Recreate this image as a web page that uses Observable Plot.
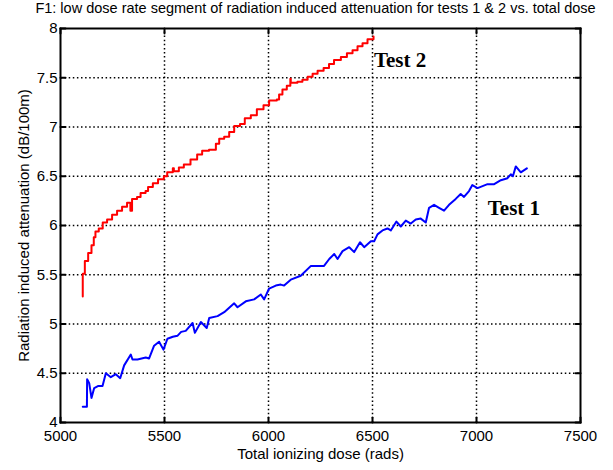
<!DOCTYPE html>
<html>
<head>
<meta charset="utf-8">
<script src="https://cdn.jsdelivr.net/npm/d3@7"></script>
<script src="https://cdn.jsdelivr.net/npm/@observablehq/plot@0.6"></script>
<style>
  html, body { margin: 0; padding: 0; background: #fff; }
  #title { width: 613px; height: 20px; line-height: 22px; text-align: center; font: 14.5px "Liberation Sans", Arial, sans-serif; color: #000; white-space: nowrap; padding-left: 18px; box-sizing: border-box; }
  #chart svg { display: block; }
</style>
</head>
<body>
<div id="title">F1: low dose rate segment of radiation induced attenuation for tests 1 &amp; 2 vs. total dose</div>
<div id="chart"></div>
<script>
// Test 2 (red)
const test2Dose = [5107,5107,5117,5133,5149,5160,5168,5184,5203,5224,5248,5272,5296,5320,5336,5344,5368,5385,5409,5421,5444,5469,5497,5513,5540,5545,5561,5569,5593,5625,5657,5681,5714,5747,5763,5787,5811,5835,5863,5886,5915,5944,5976,6003,6040,6051,6067,6088,6105,6107,6139,6163,6188,6212,6236,6265,6291,6315,6348,6377,6404,6428,6452,6476,6505];
const test2Atten = [5.28,5.51,5.64,5.72,5.80,5.88,5.94,5.97,6.03,6.06,6.11,6.15,6.19,6.23,6.15,6.27,6.29,6.33,6.35,6.39,6.43,6.47,6.50,6.54,6.58,6.55,6.55,6.59,6.62,6.67,6.72,6.76,6.77,6.83,6.88,6.90,6.95,7.01,7.03,7.09,7.12,7.18,7.22,7.27,7.28,7.33,7.38,7.42,7.49,7.45,7.46,7.48,7.51,7.54,7.57,7.60,7.64,7.68,7.71,7.75,7.78,7.82,7.85,7.89,7.92];
// Test 1 (blue)
const test1Dose = [5107,5127,5128,5138,5149,5162,5180,5202,5218,5242,5266,5287,5306,5338,5346,5370,5410,5426,5450,5474,5495,5514,5540,5562,5580,5602,5635,5646,5675,5703,5715,5755,5787,5835,5851,5891,5931,5963,5979,6003,6035,6059,6075,6107,6155,6204,6235,6267,6292,6316,6332,6356,6388,6412,6440,6460,6492,6508,6524,6548,6572,6588,6615,6636,6660,6684,6708,6732,6756,6772,6796,6820,6844,6868,6900,6924,6940,6964,6980,7005,7053,7085,7117,7149,7165,7175,7189,7213,7242];
const test1Atten = [4.16,4.16,4.44,4.40,4.25,4.35,4.37,4.37,4.50,4.46,4.49,4.45,4.58,4.69,4.64,4.64,4.66,4.65,4.78,4.82,4.74,4.85,4.87,4.88,4.92,4.93,5.01,4.91,5.02,4.96,5.06,5.08,5.12,5.21,5.17,5.23,5.25,5.30,5.25,5.36,5.39,5.40,5.39,5.45,5.49,5.59,5.59,5.59,5.66,5.71,5.66,5.74,5.78,5.73,5.83,5.78,5.84,5.84,5.91,5.95,5.97,5.95,6.04,5.99,6.05,6.02,6.06,6.07,6.03,6.18,6.21,6.18,6.15,6.21,6.27,6.32,6.29,6.35,6.41,6.38,6.42,6.42,6.46,6.48,6.52,6.50,6.60,6.54,6.58];

const xTicks = [5000,5500,6000,6500,7000,7500];
const yTicks = [4,4.5,5,5.5,6,6.5,7,7.5,8];
const seriesLabels = ["Test 2", "Test 1"];
const labelDose = [6507, 7054];
const labelAtten = [7.68, 6.18];

const test2 = test2Dose.map((d,i) => ({dose: d, atten: test2Atten[i]}));
const test1 = test1Dose.map((d,i) => ({dose: d, atten: test1Atten[i]}));
const labels = seriesLabels.map((t,i) => ({text: t, dose: labelDose[i], atten: labelAtten[i]}));

// grid and inward ticks as two-point path segments (built from the tick arrays)
const [x0, x1] = [xTicks[0], xTicks[xTicks.length - 1]];
const [y0, y1] = [yTicks[0], yTicks[yTicks.length - 1]];
const tx = 24, ty = 0.05; // inward tick lengths in data units (~5px)
const gridSegs = [
  ...xTicks.slice(1, -1).flatMap(t => [{k: "x" + t, x: t, y: y0}, {k: "x" + t, x: t, y: y1}]),
  ...yTicks.slice(1, -1).flatMap(t => [{k: "y" + t, x: x0, y: t}, {k: "y" + t, x: x1, y: t}])
];
const tickSegs = [
  ...xTicks.flatMap(t => [{k: "xb" + t, x: t, y: y0}, {k: "xb" + t, x: t, y: y0 + ty},
                          {k: "xt" + t, x: t, y: y1 - ty}, {k: "xt" + t, x: t, y: y1}]),
  ...yTicks.flatMap(t => [{k: "yl" + t, x: x0, y: t}, {k: "yl" + t, x: x0 + tx, y: t},
                          {k: "yr" + t, x: x1 - tx, y: t}, {k: "yr" + t, x: x1, y: t}])
];

const chart = Plot.plot({
  width: 613,
  height: 450,
  marginLeft: 60,
  marginRight: 33,
  marginTop: 8,
  marginBottom: 48,
  style: {fontFamily: "'Liberation Sans', Arial, sans-serif", fontSize: "15px", color: "#000", background: "#fff"},
  x: {domain: [x0, x1]},
  y: {domain: [y0, y1]},
  marks: [
    Plot.line(gridSegs, {x: "x", y: "y", z: "k", stroke: "#000", strokeWidth: 1.5, strokeDasharray: "1.5,2.6", strokeLinecap: "butt"}),
    Plot.line(tickSegs, {x: "x", y: "y", z: "k", stroke: "#000", strokeWidth: 2}),
    Plot.line(test2, {x: "dose", y: "atten", stroke: "#ff0000", strokeWidth: 2, curve: "step-after"}),
    Plot.line(test1, {x: "dose", y: "atten", stroke: "#0000ff", strokeWidth: 2}),
    Plot.text(labels, {x: "dose", y: "atten", text: "text", textAnchor: "start", fontFamily: "'Liberation Serif', 'Times New Roman', serif", fontWeight: "bold", fontSize: 21, fill: "#000"}),
    Plot.axisX(xTicks, {tickSize: 0, tickPadding: 8, tickFormat: d => String(d), label: "Total ionizing dose (rads)", labelAnchor: "center", labelArrow: "none", labelOffset: 36}),
    Plot.axisY(yTicks, {tickSize: 0, tickPadding: 3, tickFormat: d => String(d), label: "Radiation induced attenuation (dB/100m)", labelAnchor: "center", labelArrow: "none", labelOffset: 42}),
    Plot.frame({stroke: "#000", strokeWidth: 2})
  ]
});
document.getElementById("chart").appendChild(chart);
</script>
</body>
</html>
